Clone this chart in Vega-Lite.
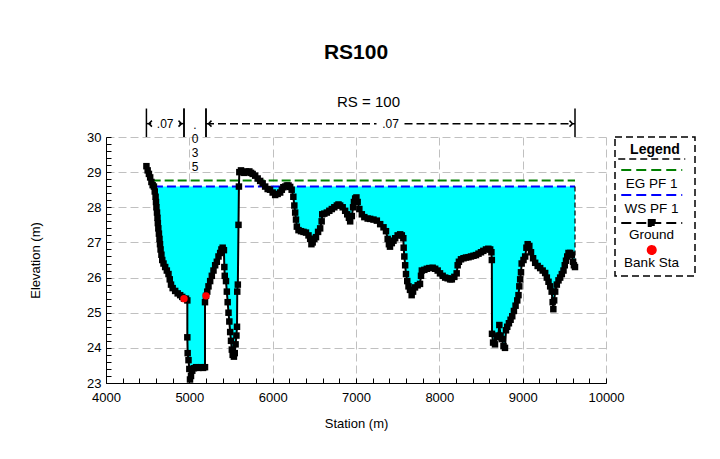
{
  "$schema": "https://vega.github.io/schema/vega-lite/v6.json",
  "width": 500,
  "height": 246,
  "autosize": {"type": "none"},
  "padding": {"left": 106, "top": 137, "right": 114, "bottom": 76},
  "background": "white",
  "title": {"text": "RS100", "fontSize": 21, "fontWeight": "bold", "offset": 32, "anchor": "middle", "color": "black", "font": "Liberation Sans"},
  "config": {
    "font": "Liberation Sans",
    "view": {"stroke": null},
    "axis": {"domainColor": "black", "domainWidth": 1, "tickColor": "black", "tickWidth": 1, "tickSize": -5, "labelColor": "black", "titleColor": "black", "labelFontSize": 13, "titleFontSize": 13, "titleFontWeight": "normal", "gridColor": "#c0c0c0", "gridDash": [8, 4], "gridWidth": 1, "labelFlush": false, "labelOverlap": false}
  },
  "datasets": {
    "ground": [
      {"station": 4485, "elev": 29.17}, {"station": 4500, "elev": 29.05}, {"station": 4515, "elev": 28.95}, {"station": 4530, "elev": 28.85}, {"station": 4545, "elev": 28.72}, {"station": 4560, "elev": 28.63}, {"station": 4575, "elev": 28.59}, {"station": 4585, "elev": 28.45}, {"station": 4595, "elev": 28.3}, {"station": 4600, "elev": 28.15}, {"station": 4605, "elev": 28.0}, {"station": 4612, "elev": 27.85}, {"station": 4618, "elev": 27.7}, {"station": 4622, "elev": 27.55}, {"station": 4628, "elev": 27.4}, {"station": 4635, "elev": 27.25}, {"station": 4642, "elev": 27.1}, {"station": 4648, "elev": 26.95}, {"station": 4655, "elev": 26.8}, {"station": 4665, "elev": 26.65}, {"station": 4675, "elev": 26.5}, {"station": 4690, "elev": 26.4}, {"station": 4710, "elev": 26.3}, {"station": 4730, "elev": 26.2}, {"station": 4750, "elev": 26.1}, {"station": 4765, "elev": 25.95}, {"station": 4780, "elev": 25.8}, {"station": 4800, "elev": 25.7}, {"station": 4830, "elev": 25.62}, {"station": 4860, "elev": 25.55}, {"station": 4890, "elev": 25.5}, {"station": 4915, "elev": 25.45}, {"station": 4936, "elev": 25.4}, {"station": 4960, "elev": 25.4}, {"station": 4976, "elev": 25.35}, {"station": 4976, "elev": 24.3}, {"station": 4980, "elev": 23.85}, {"station": 4990, "elev": 23.65}, {"station": 5000, "elev": 23.4}, {"station": 5008, "elev": 23.1}, {"station": 5020, "elev": 23.2}, {"station": 5035, "elev": 23.35}, {"station": 5055, "elev": 23.42}, {"station": 5080, "elev": 23.45}, {"station": 5110, "elev": 23.43}, {"station": 5140, "elev": 23.45}, {"station": 5165, "elev": 23.43}, {"station": 5188, "elev": 23.45}, {"station": 5188, "elev": 25.3}, {"station": 5200, "elev": 25.48}, {"station": 5215, "elev": 25.6}, {"station": 5230, "elev": 25.75}, {"station": 5250, "elev": 25.9}, {"station": 5270, "elev": 26.05}, {"station": 5290, "elev": 26.2}, {"station": 5310, "elev": 26.35}, {"station": 5330, "elev": 26.45}, {"station": 5350, "elev": 26.6}, {"station": 5370, "elev": 26.7}, {"station": 5385, "elev": 26.8}, {"station": 5400, "elev": 26.85}, {"station": 5415, "elev": 26.78}, {"station": 5420, "elev": 26.3}, {"station": 5425, "elev": 26.05}, {"station": 5440, "elev": 25.9}, {"station": 5450, "elev": 25.6}, {"station": 5460, "elev": 25.3}, {"station": 5470, "elev": 25.0}, {"station": 5480, "elev": 24.75}, {"station": 5490, "elev": 24.45}, {"station": 5500, "elev": 24.2}, {"station": 5510, "elev": 23.95}, {"station": 5520, "elev": 23.8}, {"station": 5535, "elev": 23.75}, {"station": 5545, "elev": 23.85}, {"station": 5555, "elev": 24.1}, {"station": 5565, "elev": 24.35}, {"station": 5572, "elev": 24.6}, {"station": 5575, "elev": 25.6}, {"station": 5582, "elev": 25.8}, {"station": 5590, "elev": 27.5}, {"station": 5595, "elev": 28.59}, {"station": 5600, "elev": 29.0}, {"station": 5620, "elev": 29.05}, {"station": 5640, "elev": 29.0}, {"station": 5660, "elev": 28.98}, {"station": 5680, "elev": 29.02}, {"station": 5700, "elev": 29.0}, {"station": 5720, "elev": 29.02}, {"station": 5740, "elev": 28.98}, {"station": 5760, "elev": 28.95}, {"station": 5790, "elev": 28.9}, {"station": 5820, "elev": 28.82}, {"station": 5850, "elev": 28.75}, {"station": 5880, "elev": 28.68}, {"station": 5910, "elev": 28.59}, {"station": 5940, "elev": 28.52}, {"station": 5968, "elev": 28.5}, {"station": 6000, "elev": 28.42}, {"station": 6030, "elev": 28.35}, {"station": 6060, "elev": 28.38}, {"station": 6090, "elev": 28.42}, {"station": 6110, "elev": 28.5}, {"station": 6128, "elev": 28.57}, {"station": 6150, "elev": 28.59}, {"station": 6170, "elev": 28.62}, {"station": 6190, "elev": 28.62}, {"station": 6210, "elev": 28.58}, {"station": 6228, "elev": 28.5}, {"station": 6248, "elev": 28.3}, {"station": 6260, "elev": 28.05}, {"station": 6270, "elev": 27.85}, {"station": 6280, "elev": 27.65}, {"station": 6290, "elev": 27.45}, {"station": 6310, "elev": 27.35}, {"station": 6340, "elev": 27.32}, {"station": 6370, "elev": 27.3}, {"station": 6400, "elev": 27.28}, {"station": 6430, "elev": 27.2}, {"station": 6450, "elev": 27.1}, {"station": 6465, "elev": 26.95}, {"station": 6480, "elev": 27.0}, {"station": 6500, "elev": 27.1}, {"station": 6520, "elev": 27.15}, {"station": 6545, "elev": 27.3}, {"station": 6570, "elev": 27.4}, {"station": 6588, "elev": 27.6}, {"station": 6595, "elev": 27.8}, {"station": 6620, "elev": 27.82}, {"station": 6650, "elev": 27.85}, {"station": 6680, "elev": 27.9}, {"station": 6710, "elev": 27.95}, {"station": 6740, "elev": 28.0}, {"station": 6770, "elev": 28.05}, {"station": 6790, "elev": 28.08}, {"station": 6810, "elev": 28.05}, {"station": 6840, "elev": 28.0}, {"station": 6870, "elev": 27.9}, {"station": 6895, "elev": 27.8}, {"station": 6915, "elev": 27.7}, {"station": 6930, "elev": 27.6}, {"station": 6950, "elev": 27.75}, {"station": 6965, "elev": 28.0}, {"station": 6975, "elev": 28.15}, {"station": 6990, "elev": 28.25}, {"station": 7005, "elev": 28.28}, {"station": 7020, "elev": 28.15}, {"station": 7040, "elev": 27.95}, {"station": 7070, "elev": 27.8}, {"station": 7100, "elev": 27.72}, {"station": 7140, "elev": 27.68}, {"station": 7170, "elev": 27.67}, {"station": 7210, "elev": 27.65}, {"station": 7250, "elev": 27.62}, {"station": 7290, "elev": 27.52}, {"station": 7330, "elev": 27.43}, {"station": 7360, "elev": 27.32}, {"station": 7380, "elev": 27.1}, {"station": 7395, "elev": 26.95}, {"station": 7408, "elev": 26.88}, {"station": 7430, "elev": 26.98}, {"station": 7450, "elev": 27.05}, {"station": 7470, "elev": 27.12}, {"station": 7500, "elev": 27.2}, {"station": 7530, "elev": 27.23}, {"station": 7550, "elev": 27.2}, {"station": 7568, "elev": 27.12}, {"station": 7572, "elev": 26.85}, {"station": 7580, "elev": 26.6}, {"station": 7590, "elev": 26.35}, {"station": 7600, "elev": 26.1}, {"station": 7615, "elev": 25.9}, {"station": 7630, "elev": 25.75}, {"station": 7648, "elev": 25.65}, {"station": 7668, "elev": 25.5}, {"station": 7685, "elev": 25.6}, {"station": 7708, "elev": 25.72}, {"station": 7740, "elev": 25.78}, {"station": 7768, "elev": 25.82}, {"station": 7780, "elev": 26.05}, {"station": 7790, "elev": 26.2}, {"station": 7820, "elev": 26.22}, {"station": 7850, "elev": 26.25}, {"station": 7880, "elev": 26.27}, {"station": 7920, "elev": 26.28}, {"station": 7950, "elev": 26.25}, {"station": 7980, "elev": 26.2}, {"station": 8008, "elev": 26.12}, {"station": 8040, "elev": 26.05}, {"station": 8070, "elev": 26.0}, {"station": 8100, "elev": 25.98}, {"station": 8130, "elev": 25.95}, {"station": 8150, "elev": 25.95}, {"station": 8180, "elev": 26.02}, {"station": 8208, "elev": 26.12}, {"station": 8220, "elev": 26.35}, {"station": 8235, "elev": 26.45}, {"station": 8260, "elev": 26.52}, {"station": 8290, "elev": 26.55}, {"station": 8320, "elev": 26.57}, {"station": 8350, "elev": 26.58}, {"station": 8380, "elev": 26.6}, {"station": 8410, "elev": 26.62}, {"station": 8440, "elev": 26.64}, {"station": 8470, "elev": 26.68}, {"station": 8500, "elev": 26.72}, {"station": 8528, "elev": 26.76}, {"station": 8560, "elev": 26.8}, {"station": 8588, "elev": 26.82}, {"station": 8610, "elev": 26.8}, {"station": 8625, "elev": 26.72}, {"station": 8630, "elev": 26.5}, {"station": 8632, "elev": 24.4}, {"station": 8645, "elev": 24.15}, {"station": 8668, "elev": 24.1}, {"station": 8690, "elev": 24.3}, {"station": 8708, "elev": 24.35}, {"station": 8720, "elev": 24.65}, {"station": 8735, "elev": 24.35}, {"station": 8750, "elev": 24.25}, {"station": 8770, "elev": 24.05}, {"station": 8788, "elev": 24.0}, {"station": 8800, "elev": 24.5}, {"station": 8815, "elev": 24.6}, {"station": 8835, "elev": 24.7}, {"station": 8855, "elev": 24.8}, {"station": 8875, "elev": 24.9}, {"station": 8895, "elev": 25.05}, {"station": 8915, "elev": 25.2}, {"station": 8935, "elev": 25.35}, {"station": 8950, "elev": 25.5}, {"station": 8960, "elev": 25.75}, {"station": 8970, "elev": 25.95}, {"station": 8980, "elev": 26.15}, {"station": 8988, "elev": 26.4}, {"station": 9010, "elev": 26.5}, {"station": 9030, "elev": 26.6}, {"station": 9045, "elev": 26.85}, {"station": 9060, "elev": 26.95}, {"station": 9080, "elev": 26.9}, {"station": 9100, "elev": 26.72}, {"station": 9125, "elev": 26.55}, {"station": 9150, "elev": 26.42}, {"station": 9180, "elev": 26.33}, {"station": 9210, "elev": 26.27}, {"station": 9240, "elev": 26.2}, {"station": 9270, "elev": 26.13}, {"station": 9290, "elev": 26.0}, {"station": 9310, "elev": 25.88}, {"station": 9330, "elev": 25.75}, {"station": 9348, "elev": 25.6}, {"station": 9360, "elev": 25.3}, {"station": 9368, "elev": 25.1}, {"station": 9378, "elev": 25.35}, {"station": 9390, "elev": 25.6}, {"station": 9410, "elev": 25.8}, {"station": 9430, "elev": 25.92}, {"station": 9450, "elev": 26.0}, {"station": 9470, "elev": 26.1}, {"station": 9490, "elev": 26.2}, {"station": 9505, "elev": 26.35}, {"station": 9520, "elev": 26.48}, {"station": 9535, "elev": 26.6}, {"station": 9550, "elev": 26.7}, {"station": 9570, "elev": 26.7}, {"station": 9590, "elev": 26.65}, {"station": 9605, "elev": 26.45}, {"station": 9615, "elev": 26.35}, {"station": 9628, "elev": 26.3}
    ],
    "profiles": [
      {"profile": "EG PF 1", "station": 4548, "elev": 28.76},
      {"profile": "EG PF 1", "station": 9628, "elev": 28.76},
      {"profile": "WS PF 1", "station": 4575, "elev": 28.59},
      {"profile": "WS PF 1", "station": 9628, "elev": 28.59}
    ],
    "banks": [
      {"station": 4936, "elev": 25.4},
      {"station": 5200, "elev": 25.48}
    ],
    "mann": [
      {"zone": "LOB", "from": 4485, "to": 4936, "n": ".07"},
      {"zone": "Channel", "from": 4936, "to": 5200, "n": ".035"},
      {"zone": "ROB", "from": 5200, "to": 9628, "n": ".07"}
    ],
    "rs": [{"label": "RS = 100", "station": 7150}]
  },
  "layer": [
    {
      "data": {"name": "ground"},
      "transform": [{"filter": "datum.elev <= 28.6 && datum.station >= 4575"}],
      "mark": {"type": "area", "color": "#00ffff", "opacity": 1},
      "encoding": {
        "x": {"field": "station", "type": "quantitative", "title": "Station (m)",
          "scale": {"domain": [4000, 10000], "nice": false, "zero": false},
          "axis": {"values": [4000,4200,4400,4600,4800,5000,5200,5400,5600,5800,6000,6200,6400,6600,6800,7000,7200,7400,7600,7800,8000,8200,8400,8600,8800,9000,9200,9400,9600,9800,10000],
            "tickCount": 200,
            "format": "d", "labelExpr": "datum.value % 1000 === 0 ? datum.label : ''", "grid": true,
            "gridOpacity": {"condition": {"test": "datum.value % 1000 === 0", "value": 1}, "value": 0},
            "labelPadding": 13, "titlePadding": 13}},
        "y": {"field": "elev", "type": "quantitative", "title": "Elevation (m)",
          "scale": {"domain": [23, 30], "nice": false, "zero": false},
          "axis": {"values": [23,23.2,23.4,23.6,23.8,24,24.2,24.4,24.6,24.8,25,25.2,25.4,25.6,25.8,26,26.2,26.4,26.6,26.8,27,27.2,27.4,27.6,27.8,28,28.2,28.4,28.6,28.8,29,29.2,29.4,29.6,29.8,30],
            "tickCount": 200, "format": ".0f",
            "labelExpr": "abs(datum.value - round(datum.value)) < 0.01 ? datum.label : ''", "grid": true,
            "gridOpacity": {"condition": {"test": "abs(datum.value - round(datum.value)) < 0.01", "value": 1}, "value": 0},
            "labelPadding": 10, "titlePadding": 44}},
        "y2": {"datum": 28.59}
      }
    },
    {
      "data": {"name": "profiles"},
      "mark": {"type": "line", "strokeDash": [9, 4], "strokeWidth": 2},
      "encoding": {
        "x": {"field": "station", "type": "quantitative", "title": "Station (m)"},
        "y": {"field": "elev", "type": "quantitative", "title": "Elevation (m)"},
        "color": {"field": "profile", "type": "nominal",
          "scale": {"domain": ["sep", "EG PF 1", "WS PF 1", "Ground", "Bank Sta"], "range": ["#000000", "#008000", "#0000ff", "#000000", "#ff0000"]},
          "legend": {
            "title": "Legend", "orient": "right", "offset": 9,
            "titleFontSize": 14, "titleFontWeight": "bold", "titleColor": "black", "titleAnchor": "middle", "titlePadding": 2,
            "labelFontSize": 13.5, "labelColor": "black", "labelAlign": "center", "labelOffset": -7,
            "labelExpr": "datum.value === 'sep' ? '' : datum.label",
            "symbolSize": 25, "symbolStrokeWidth": 2, "symbolOffset": 24,
            "strokeColor": "black", "padding": 6, "rowPadding": 0,
            "encode": {
              "legend": {"update": {"strokeDash": {"value": [7, 4]}, "strokeWidth": {"value": 1.5}}},
              "symbols": {"update": {
                "shape": {"signal": "datum.value === 'Bank Sta' ? 'M-1.6,-1.1A1.6,1.6,0,1,1,1.6,-1.1A1.6,1.6,0,1,1,-1.6,-1.1Z' : datum.value === 'Ground' ? 'M-12.2,-1.5L12.2,-1.5M-1.2,-2.7L1.2,-2.7L1.2,-0.3L-1.2,-0.3Z' : datum.value === 'sep' ? 'M-13.4,-2.7L13.4,-2.7' : 'M-12.2,-2.7L12.2,-2.7'"},
                "size": {"value": 25},
                "stroke": {"signal": "datum.value === 'Bank Sta' ? 'transparent' : scale('color', datum.value)"},
                "fill": {"signal": "datum.value === 'Bank Sta' || datum.value === 'Ground' ? scale('color', datum.value) : 'transparent'"},
                "strokeDash": {"signal": "datum.value === 'Bank Sta' ? [1, 0] : datum.value === 'sep' ? [7, 4] : [10, 5]"},
                "strokeWidth": {"signal": "datum.value === 'sep' ? 1.5 : 2"},
                "opacity": {"value": 1}
              }},
              "labels": {"update": {
                "dy": {"signal": "datum.value === 'sep' ? 0 : datum.value === 'Bank Sta' ? 10.25 : datum.value === 'Ground' ? 8.25 : 7.25"},
                "fontSize": {"signal": "datum.value === 'sep' ? 0 : 13.5"}
              }}
            }
          }
        }
      }
    },
    {
      "data": {"name": "profiles"},
      "transform": [{"filter": "datum.profile === 'WS PF 1' && datum.station > 9000"}],
      "mark": {"type": "rule", "color": "black", "strokeDash": [5, 3], "strokeWidth": 1.2},
      "encoding": {
        "x": {"field": "station", "type": "quantitative", "title": "Station (m)"},
        "y": {"field": "elev", "type": "quantitative", "title": "Elevation (m)"},
        "y2": {"datum": 26.3}
      }
    },
    {
      "data": {"name": "ground"},
      "mark": {"type": "line", "strokeWidth": 2},
      "encoding": {
        "x": {"field": "station", "type": "quantitative", "title": "Station (m)"},
        "y": {"field": "elev", "type": "quantitative", "title": "Elevation (m)"},
        "color": {"datum": "Ground"}
      }
    },
    {
      "data": {"name": "ground"},
      "mark": {"type": "point", "shape": "square", "filled": true, "size": 42, "opacity": 1},
      "encoding": {
        "x": {"field": "station", "type": "quantitative", "title": "Station (m)"},
        "y": {"field": "elev", "type": "quantitative", "title": "Elevation (m)"},
        "color": {"datum": "Ground"}
      }
    },
    {
      "data": {"name": "banks"},
      "mark": {"type": "point", "shape": "circle", "filled": true, "size": 55, "opacity": 1},
      "encoding": {
        "x": {"field": "station", "type": "quantitative", "title": "Station (m)"},
        "y": {"field": "elev", "type": "quantitative", "title": "Elevation (m)"},
        "color": {"datum": "Bank Sta"}
      }
    },
    {
      "data": {"name": "mann"},
      "transform": [
        {"fold": ["from", "to"], "as": ["end", "pos"]},
        {"joinaggregate": [{"op": "mean", "field": "pos", "as": "mid"}], "groupby": ["zone"]}
      ],
      "layer": [
        {
          "mark": {"type": "rule", "color": "black", "strokeWidth": 1.5},
          "encoding": {
            "x": {"field": "pos", "type": "quantitative", "title": "Station (m)"},
            "y": {"datum": 30},
            "y2": {"datum": 30.81}
          }
        },
        {
          "transform": [{"filter": "datum.end === 'from' && datum.zone !== 'Channel'"}],
          "mark": {"type": "rule", "color": "black", "strokeWidth": 1.5, "strokeDash": [8, 4], "x2Offset": -14},
          "encoding": {
            "x": {"field": "from", "type": "quantitative", "title": "Station (m)"},
            "x2": {"field": "mid"},
            "y": {"datum": 30.38}
          }
        },
        {
          "transform": [{"filter": "datum.end === 'from' && datum.zone !== 'Channel'"}],
          "mark": {"type": "rule", "color": "black", "strokeWidth": 1.5, "strokeDash": [8, 4], "xOffset": 14},
          "encoding": {
            "x": {"field": "mid", "type": "quantitative", "title": "Station (m)"},
            "x2": {"field": "to"},
            "y": {"datum": 30.38}
          }
        },
        {
          "transform": [{"filter": "datum.end === 'from' && datum.zone !== 'Channel'"}],
          "mark": {"type": "point", "shape": "M0.5,-1L-0.5,0L0.5,1", "filled": false, "color": "black", "strokeWidth": 1.5, "size": 36, "xOffset": 4, "opacity": 1},
          "encoding": {
            "x": {"field": "from", "type": "quantitative", "title": "Station (m)"},
            "y": {"datum": 30.38}
          }
        },
        {
          "transform": [{"filter": "datum.end === 'from' && datum.zone !== 'Channel'"}],
          "mark": {"type": "point", "shape": "M-0.5,-1L0.5,0L-0.5,1", "filled": false, "color": "black", "strokeWidth": 1.5, "size": 36, "xOffset": -4, "opacity": 1},
          "encoding": {
            "x": {"field": "to", "type": "quantitative", "title": "Station (m)"},
            "y": {"datum": 30.38}
          }
        },
        {
          "transform": [{"filter": "datum.end === 'from' && datum.zone !== 'Channel'"}],
          "mark": {"type": "text", "fontSize": 12, "color": "black", "baseline": "middle", "align": "center"},
          "encoding": {
            "x": {"field": "mid", "type": "quantitative", "title": "Station (m)"},
            "y": {"datum": 30.38},
            "text": {"field": "n"}
          }
        },
        {
          "transform": [{"filter": "datum.end === 'from' && datum.zone === 'Channel'"}],
          "mark": {"type": "text", "fontSize": 12, "color": "black", "baseline": "top", "align": "center", "lineHeight": 14},
          "encoding": {
            "x": {"field": "mid", "type": "quantitative", "title": "Station (m)"},
            "y": {"datum": 30.48},
            "text": {"value": [".", "0", "3", "5"]}
          }
        }
      ]
    },
    {
      "data": {"name": "rs"},
      "mark": {"type": "text", "fontSize": 15, "color": "black", "baseline": "middle", "align": "center"},
      "encoding": {
        "x": {"field": "station", "type": "quantitative", "title": "Station (m)"},
        "y": {"datum": 31.0},
        "text": {"field": "label"}
      }
    }
  ]
}
